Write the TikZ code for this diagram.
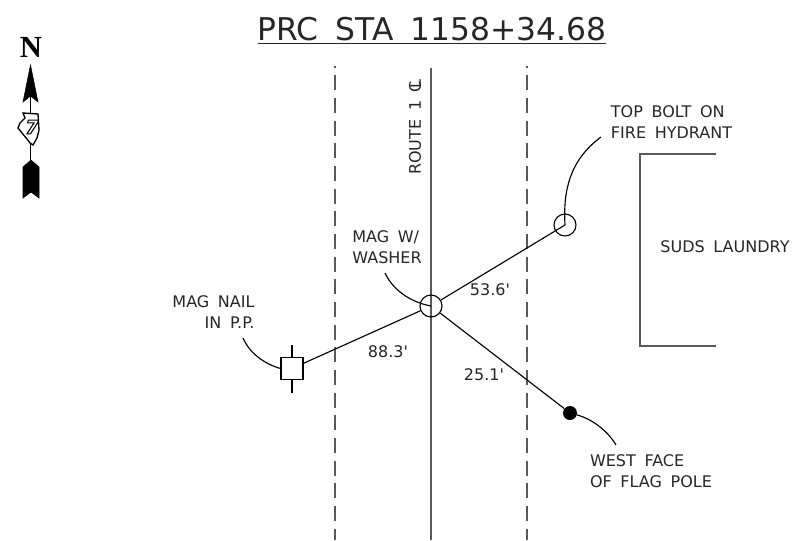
\documentclass[tikz,border=0pt]{standalone}
\usepackage{fontspec}
\setmainfont{DejaVu Sans}[WordSpace=1.7,Ligatures=TeXOff]
\newfontfamily\northfont{Liberation Serif}[Scale=1]
\usetikzlibrary{positioning}
\tikzset{
 noteline/.style={black,line width=0.85pt},
 roadline/.style={black!65,line width=1.4pt},
 edgeline/.style={black!65,line width=1.4pt,dash pattern=on 11.25pt off 5.75pt,dash phase=10pt},
 point/.style={circle,draw,line width=0.85pt,minimum size=16.5pt,inner sep=0pt},
 note/.style={font=\fontsize{12pt}{15.75pt}\selectfont,text=black!85,align=left,inner sep=0pt},
}
\begin{document}
\begin{tikzpicture}[x=0.75pt,y=-0.75pt]
 \useasboundingbox (0,0) rectangle (801,540);
 \node (title) at (432,30.5) [font=\fontsize{23.5pt}{26pt}\selectfont,text=black!85,inner sep=0pt] {\underline{PRC STA 1158+34.68}};

 \draw [edgeline](335,66)--(335,540);
 \draw [edgeline](527,66)--(527,540);
 \draw [roadline](431,68)--(431,540);
 \node (route) at (415,127) [note,rotate=90] {ROUTE 1 C\kern-0.45em L};

 \node (washer) at (431,306) [point] {};
 \node (hydrant) at (565,225) [point] {};
 \node (nail) at (292,368.5) [draw,line width=0.85pt,minimum size=16.5pt,inner sep=0pt] {};
 \node (pole) at (570,413) [circle,fill=black,minimum size=10.5pt,inner sep=0pt] {};

 \draw [noteline](nail)--(washer);
 \draw [noteline](hydrant.center)--(washer);
 \draw [noteline](washer)--(pole);
 \draw [noteline](292,345)--(nail.north);
 \draw [noteline](nail.south)--(292,393);

 \coordinate (nailend) at (243,338);
 \coordinate (washerend) at (385,273);
 \coordinate (hydrantend) at (601,137);
 \coordinate (poleend) at (616,445);
 \draw [noteline](nailend) .. controls (250,354) and (265,364) .. (nail.west);
 \draw [noteline](washerend) .. controls (393,290) and (410,302) .. (washer.center);
 \draw [noteline](hydrantend) .. controls (570,160) and (563,190) .. (hydrant.center);
 \draw [noteline](pole) .. controls (592,419) and (608,431) .. (poleend);

 \draw [roadline](716,154)--(640,154)--(640,346)--(716,346);

 \node (naillabel) at (213.5,312.5) [note,align=right] {MAG NAIL\\IN P.P.};
 \node (washerlabel) at (387,247) [note] {MAG W/\\WASHER};
 \node (hydrantlabel) at (671.5,122.5) [note] {TOP BOLT ON\\FIRE HYDRANT};
 \node (polelabel) at (651,471.5) [note] {WEST FACE\\OF FLAG POLE};
 \node (laundry) at (725,247) [note] {SUDS LAUNDRY};
 \node (distwest) at (388,352) [note] {88.3'};
 \node (disteast) at (490,290) [note] {53.6'};
 \node (distsouth) at (484,375) [note] {25.1'};

 \node (north) at (31,47.5) [font=\northfont\bfseries\fontsize{23pt}{24pt}\selectfont,inner sep=0pt] {N};
 \draw [line width=1pt](30.5,96)--(30.5,162);
 \draw [fill=black](30.5,65)--(38,102)--(30.5,96)--(23,102)--cycle;
 \draw [fill=black](31,160)--(39,167)--(39,198)--(31,192)--(23,198)--(23,167)--cycle;
 \draw [fill=white,line width=1pt](23,113)--(38,114)--(39,130)--(37,138)--(33,145)--(30,143)--(27,139)--(22,133)--(18,128)--(20,123)--(25,118)--cycle;
 \node (seven) at (32,127) [font=\bfseries\itshape\fontsize{14pt}{14pt}\selectfont,inner sep=0pt] {\special{pdf:code q 1 Tr 0.8 w}7\special{pdf:code Q}};
\end{tikzpicture}
\end{document}
